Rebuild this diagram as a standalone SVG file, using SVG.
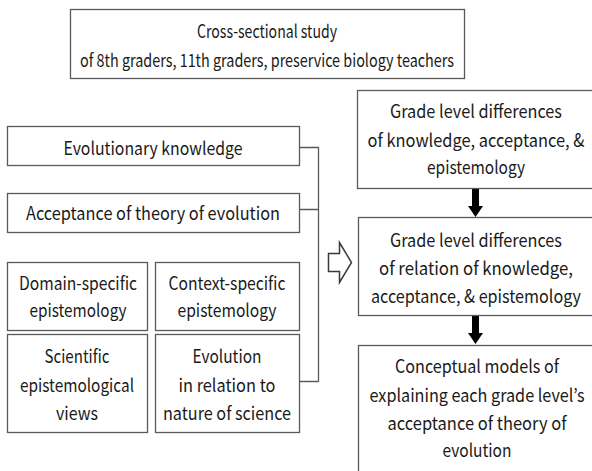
<svg xmlns="http://www.w3.org/2000/svg" width="592" height="471" viewBox="0 0 592 471">
<style>
.box{fill:#fff;stroke:#5a5a5a;stroke-width:1.3}
.t{font-family:"Noto Sans CJK KR","Liberation Sans",sans-serif;font-size:18px;fill:#1a1a1a;text-anchor:middle}
.c{fill:none;stroke:#5a5a5a;stroke-width:1.3}
</style>
<rect width="592" height="471" fill="#fff"/>
<g id="study">
<rect class="box" x="70.5" y="9.5" width="394" height="69"/>
<text class="t" x="267" y="38" textLength="140" lengthAdjust="spacingAndGlyphs">Cross-sectional study</text>
<text class="t" x="267" y="67" textLength="374" lengthAdjust="spacingAndGlyphs">of 8th graders, 11th graders, preservice biology teachers</text>
</g>
<g id="knowledge">
<rect class="box" x="7.5" y="126.5" width="292" height="39"/>
<text class="t" x="153" y="155" textLength="179" lengthAdjust="spacingAndGlyphs">Evolutionary knowledge</text>
</g>
<g id="acceptance">
<rect class="box" x="7.5" y="193.5" width="292" height="39"/>
<text class="t" x="153" y="220" textLength="254" lengthAdjust="spacingAndGlyphs">Acceptance of theory of evolution</text>
</g>
<g id="domain">
<rect class="box" x="7.5" y="262.5" width="140" height="68"/>
<text class="t" x="78" y="290" textLength="118" lengthAdjust="spacingAndGlyphs">Domain-specific</text>
<text class="t" x="78" y="317" textLength="97" lengthAdjust="spacingAndGlyphs">epistemology</text>
</g>
<g id="context">
<rect class="box" x="155.5" y="262.5" width="144" height="68"/>
<text class="t" x="227" y="290" textLength="117" lengthAdjust="spacingAndGlyphs">Context-specific</text>
<text class="t" x="227" y="317" textLength="99" lengthAdjust="spacingAndGlyphs">epistemology</text>
</g>
<g id="scientific">
<rect class="box" x="7.5" y="334.5" width="140" height="98"/>
<text class="t" x="77" y="363" textLength="65" lengthAdjust="spacingAndGlyphs">Scientific</text>
<text class="t" x="77" y="392" textLength="114" lengthAdjust="spacingAndGlyphs">epistemological</text>
<text class="t" x="77" y="420" textLength="42" lengthAdjust="spacingAndGlyphs">views</text>
</g>
<g id="nos">
<rect class="box" x="155.5" y="334.5" width="144" height="98"/>
<text class="t" x="227" y="363" textLength="69" lengthAdjust="spacingAndGlyphs">Evolution</text>
<text class="t" x="227" y="392" textLength="97" lengthAdjust="spacingAndGlyphs">in relation to</text>
<text class="t" x="227" y="420" textLength="128" lengthAdjust="spacingAndGlyphs">nature of science</text>
</g>
<g id="connectors">
<path class="c" d="M299.5 147.5H318.5M299.5 209.5H318.5M299.5 381.5H318.5M318.5 147V382"/>
<path d="M328.5 253.5H339.5V242.5L351.5 262.5L339.5 282.5V271.5H328.5Z" fill="#fff" stroke="#3a3a3a" stroke-width="1.5" stroke-linejoin="miter"/>
<path d="M472 188H479V206H483L475.5 217L468 206H472Z" fill="#000"/>
<path d="M472 315H479V333H483L475.5 344L468 333H472Z" fill="#000"/>
</g>
<g id="diff1">
<rect class="box" x="357.5" y="90.5" width="236" height="98"/>
<text class="t" x="476" y="118" textLength="172" lengthAdjust="spacingAndGlyphs">Grade level differences</text>
<text class="t" x="476" y="147" textLength="217" lengthAdjust="spacingAndGlyphs">of knowledge, acceptance, &amp;</text>
<text class="t" x="476" y="174" textLength="98" lengthAdjust="spacingAndGlyphs">epistemology</text>
</g>
<g id="diff2">
<rect class="box" x="358.5" y="217.5" width="235" height="98"/>
<text class="t" x="476" y="247" textLength="172" lengthAdjust="spacingAndGlyphs">Grade level differences</text>
<text class="t" x="476" y="275" textLength="194" lengthAdjust="spacingAndGlyphs">of relation of knowledge,</text>
<text class="t" x="476" y="303" textLength="210" lengthAdjust="spacingAndGlyphs">acceptance, &amp; epistemology</text>
</g>
<g id="models">
<rect class="box" x="358.5" y="345.5" width="235" height="130"/>
<text class="t" x="477" y="373" textLength="164" lengthAdjust="spacingAndGlyphs">Conceptual models of</text>
<text class="t" x="477" y="402" textLength="215" lengthAdjust="spacingAndGlyphs">explaining each grade level’s</text>
<text class="t" x="477" y="430" textLength="179" lengthAdjust="spacingAndGlyphs">acceptance of theory of</text>
<text class="t" x="477" y="457" textLength="69" lengthAdjust="spacingAndGlyphs">evolution</text>
</g>
</svg>
